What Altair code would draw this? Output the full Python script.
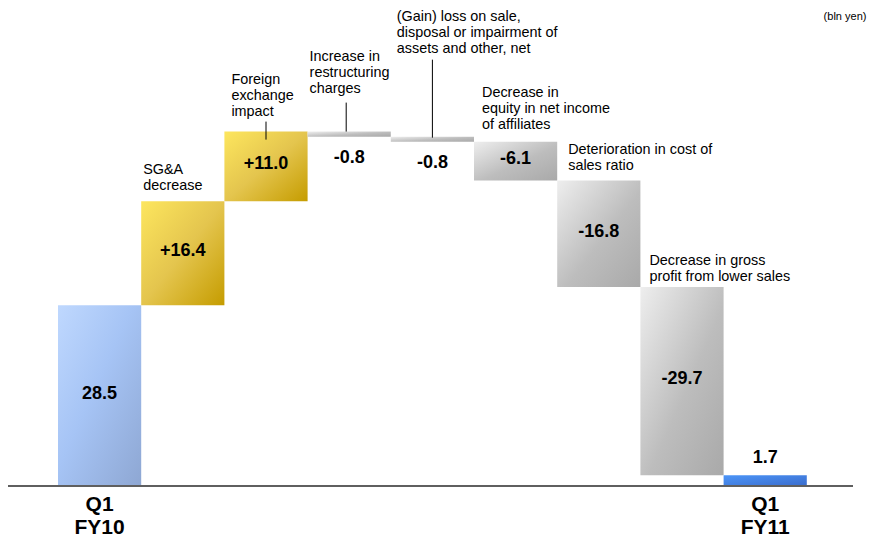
import altair as alt
import pandas as pd

# ---- data ----
steps = ["Q1 FY10", "SG&A decrease", "Foreign exchange impact",
         "Increase in restructuring charges",
         "(Gain) loss on sale, disposal or impairment of assets and other, net",
         "Decrease in equity in net income of affiliates",
         "Deterioration in cost of sales ratio",
         "Decrease in gross profit from lower sales", "Q1 FY11"]
changes = [28.5, 16.4, 11.0, -0.8, -0.8, -6.1, -16.8, -29.7, 1.7]
kinds = ["total", "up", "up", "down", "down", "down", "down", "down", "total"]
notes = ["", "SG&A\ndecrease", "Foreign\nexchange\nimpact",
         "Increase in\nrestructuring\ncharges",
         "(Gain) loss on sale,\ndisposal or impairment of\nassets and other, net",
         "Decrease in\nequity in net income\nof affiliates",
         "Deterioration in cost of\nsales ratio",
         "Decrease in gross\nprofit from lower sales", ""]
period_labels = ["Q1\nFY10", "", "", "", "", "", "", "", "Q1\nFY11"]
unit_note = "(bln yen)"

# ---- build waterfall table ----
rows = []
running = 0.0
for i, (s, v, k, n, p) in enumerate(zip(steps, changes, kinds, notes, period_labels)):
    if k == "total":
        start, end = 0.0, v
    else:
        start, end = running, running + v
    running = end
    lab = f"+{v:.1f}" if k == "up" else f"{v:.1f}"
    if abs(v) >= 3:
        pos = "mid"
    elif k == "total":
        pos = "above"
    else:
        pos = "below"
    rows.append(dict(i=i, i1=i + 1, c=i + 0.5, step=s, start=start, end=end,
                     top=max(start, end), bottom=min(start, end),
                     mid=(start + end) / 2, zero=0.0, kind=k, label=lab, pos=pos,
                     note=n, period=p))
df = pd.DataFrame(rows)

FONT = "Liberation Sans"
W, H = 859, 530
# x: plot px = 50 + 83.2*u ; y: plot px = 478 - 6.34*v
XMIN, XMAX = -50 / 83.2, (W - 50) / 83.2
YMIN, YMAX = (478 - H) / 6.34, 478 / 6.34
xs = alt.Scale(domain=[XMIN, XMAX], nice=False, zero=False)
ys = alt.Scale(domain=[YMIN, YMAX], nice=False, zero=False)

base = alt.Chart(df)


def gx(f):
    return alt.X(f, type="quantitative", scale=xs, axis=None)


def gy(f):
    return alt.Y(f, type="quantitative", scale=ys, axis=None)


def grad(stops):
    return alt.LinearGradient(
        gradient="linear",
        stops=[alt.GradientStop(color=c, offset=o) for o, c in stops],
        x1=0, y1=0, x2=1, y2=1)


fills = {
    "first": grad([(0, "#bfd8fe"), (0.45, "#a6c4f5"), (1, "#8ea7d3")]),
    "up": grad([(0, "#fde65e"), (0.5, "#e4c54e"), (1, "#c59c00")]),
    "down": grad([(0, "#eeeeee"), (0.55, "#bdbdbd"), (1, "#a9a9a9")]),
    "last": grad([(0, "#4c95f8"), (1, "#3a6ccc")]),
}

layers = []
for key, cond in [("first", "datum.i == 0"), ("up", "datum.kind == 'up'"),
                  ("down", "datum.kind == 'down'"), ("last", "datum.i == 8")]:
    layers.append(
        base.transform_filter(cond).mark_bar(fill=fills[key])
        .encode(x=gx("i"), x2="i1:Q", y=gy("start"), y2="end:Q")
    )

# baseline
line_df = pd.DataFrame({"x0": [(-2 - 50) / 83.2], "x1": [(845 - 50) / 83.2], "z": [0.0]})
layers.append(
    alt.Chart(line_df).mark_rule(color="#5f5f5f", strokeWidth=2)
    .encode(x=gx("x0"), x2="x1:Q", y=gy("z"))
)

vtext = dict(font=FONT, fontSize=18, fontWeight="bold", color="#000000", align="center")
layers.append(base.transform_filter("datum.pos == 'mid'").mark_text(baseline="middle", dy=-2, **vtext)
              .encode(x=gx("c"), y=gy("mid"), text="label:N"))
layers.append(base.transform_filter("datum.pos == 'below'").mark_text(baseline="middle", dy=21, **vtext)
              .encode(x=gx("c"), y=gy("bottom"), text="label:N"))
layers.append(base.transform_filter("datum.pos == 'above'").mark_text(baseline="middle", dy=-17, **vtext)
              .encode(x=gx("c"), y=gy("top"), text="label:N"))

layers.append(base.transform_filter("datum.kind == 'total'")
              .mark_text(font=FONT, fontSize=21, fontWeight="bold", color="#000000", align="center",
                         baseline="middle", lineBreak="\n", lineHeight=23, dy=19)
              .encode(x=gx("c"), y=gy("zero"), text="period:N"))

LH = 16
note_dx = {1: 2, 2: 7, 3: 2, 4: 6, 5: 8, 6: 11, 7: 9}
note_gap = {1: 8, 2: 13, 3: 36, 4: 81, 5: 10, 6: 7, 7: 3}
for i in note_dx:
    extra = (notes[i].count("\n")) * LH
    layers.append(base.transform_filter(f"datum.i == {i}")
                  .mark_text(font=FONT, fontSize=14.4, color="#000000", align="left", baseline="bottom",
                             lineBreak="\n", lineHeight=LH, dx=note_dx[i], dy=-note_gap[i] - extra)
                  .encode(x=gx("i"), y=gy("top"), text="note:N"))

tick_lift = {2: 10, 3: 29, 4: 77}
tick_in = {2: 8, 3: 0, 4: 1}
tick_dx = {2: 0, 3: -3, 4: 0}
for i in tick_lift:
    layers.append(base.transform_filter(f"datum.i == {i}")
                  .mark_rule(color="#000000", strokeWidth=1, yOffset=tick_in[i], y2Offset=-tick_lift[i],
                             xOffset=tick_dx[i])
                  .encode(x=gx("c"), y=gy("top"), y2="top:Q"))

unit_df = pd.DataFrame({"t": [unit_note], "ux": [(837 - 50) / 83.2], "uy": [(478 - 9) / 6.34]})
layers.append(alt.Chart(unit_df)
              .mark_text(font=FONT, fontSize=11, color="#000000", align="center", baseline="middle")
              .encode(x=gx("ux"), y=gy("uy"), text="t:N"))

chart = alt.layer(*layers).properties(
    width=W, height=H, padding=0,
    autosize=alt.AutoSizeParams(type="none"),
).configure_view(stroke=None)

chart.save("out.html", embed_options={"renderer": "svg", "actions": False})
